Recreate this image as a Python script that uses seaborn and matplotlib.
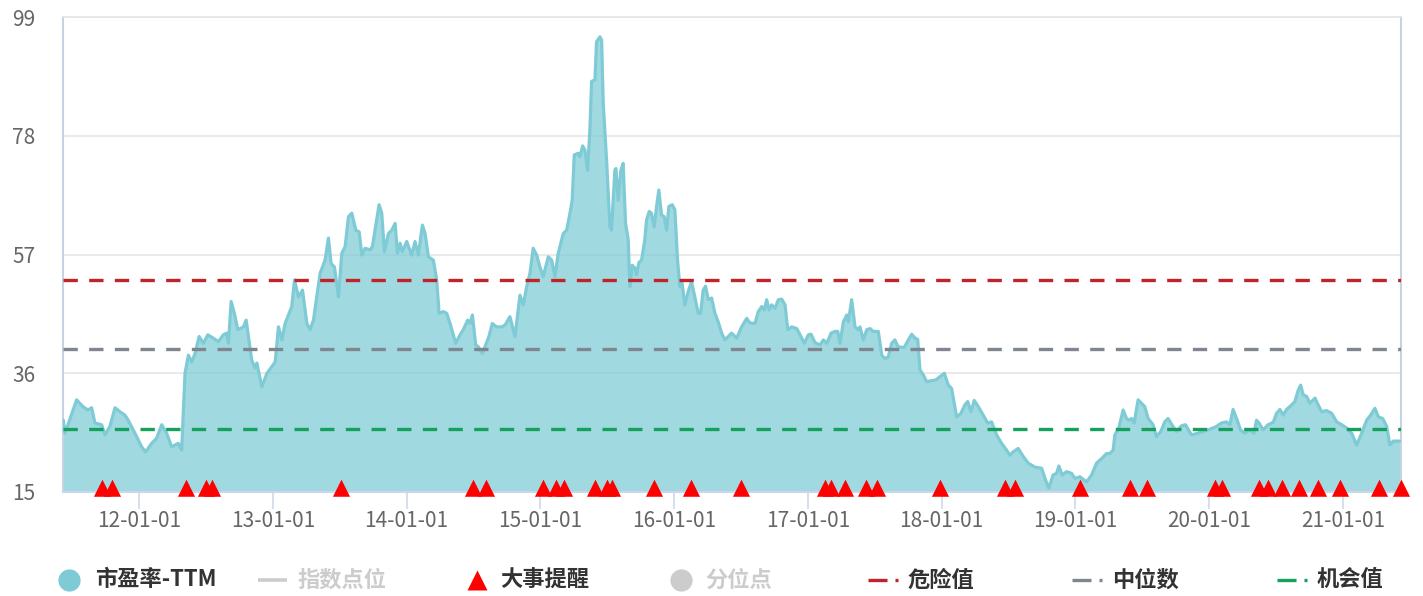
import pandas as pd
import numpy as np
import matplotlib
matplotlib.use('Agg')
import matplotlib.pyplot as plt
import matplotlib.dates as mdates
from matplotlib.lines import Line2D
from matplotlib.path import Path
import seaborn as sns

# ── Data ────────────────────────────────────────────────────────────────────
# dates as decimal years, PE-TTM values
pe_years = [
    2011.434, 2011.447, 2011.534, 2011.581, 2011.619, 2011.646, 2011.671, 2011.721, 2011.746, 2011.783,
    2011.821, 2011.858, 2011.895, 2011.920, 2011.970, 2012.020, 2012.050, 2012.095, 2012.132, 2012.170,
    2012.207, 2012.244, 2012.294, 2012.319, 2012.344, 2012.369, 2012.394, 2012.419, 2012.449, 2012.481,
    2012.514, 2012.555, 2012.593, 2012.630, 2012.656, 2012.668, 2012.688, 2012.712, 2012.738, 2012.780,
    2012.800, 2012.842, 2012.867, 2012.880, 2012.917, 2012.955, 2012.992, 2013.017, 2013.041, 2013.067,
    2013.091, 2013.141, 2013.161, 2013.191, 2013.221, 2013.254, 2013.278, 2013.303, 2013.328, 2013.353,
    2013.390, 2013.415, 2013.435, 2013.460, 2013.490, 2013.515, 2013.540, 2013.565, 2013.590, 2013.620,
    2013.645, 2013.665, 2013.689, 2013.727, 2013.744, 2013.794, 2013.814, 2013.834, 2013.864, 2013.889,
    2013.914, 2013.931, 2013.951, 2013.968, 2014.001, 2014.038, 2014.063, 2014.088, 2014.118, 2014.138,
    2014.163, 2014.200, 2014.225, 2014.243, 2014.275, 2014.300, 2014.325, 2014.367, 2014.400, 2014.424,
    2014.457, 2014.474, 2014.492, 2014.517, 2014.536, 2014.566, 2014.586, 2014.616, 2014.641, 2014.674,
    2014.711, 2014.736, 2014.773, 2014.811, 2014.848, 2014.873, 2014.898, 2014.923, 2014.947, 2014.973,
    2014.997, 2015.022, 2015.060, 2015.085, 2015.110, 2015.134, 2015.172, 2015.197, 2015.222, 2015.239,
    2015.254, 2015.284, 2015.297, 2015.317, 2015.334, 2015.354, 2015.371, 2015.384, 2015.409, 2015.421,
    2015.446, 2015.459, 2015.471, 2015.496, 2015.521, 2015.533, 2015.558, 2015.566, 2015.583, 2015.603,
    2015.620, 2015.638, 2015.658, 2015.670, 2015.688, 2015.708, 2015.720, 2015.738, 2015.758, 2015.782,
    2015.795, 2015.815, 2015.832, 2015.852, 2015.870, 2015.887, 2015.907, 2015.927, 2015.945, 2015.962,
    2015.987, 2016.007, 2016.027, 2016.044, 2016.061, 2016.081, 2016.106, 2016.131, 2016.156, 2016.181,
    2016.199, 2016.218, 2016.236, 2016.256, 2016.281, 2016.306, 2016.330, 2016.356, 2016.380, 2016.430,
    2016.468, 2016.505, 2016.543, 2016.567, 2016.605, 2016.629, 2016.655, 2016.674, 2016.692, 2016.709,
    2016.729, 2016.754, 2016.779, 2016.804, 2016.829, 2016.849, 2016.879, 2016.916, 2016.941, 2016.973,
    2017.003, 2017.023, 2017.053, 2017.091, 2017.115, 2017.141, 2017.173, 2017.203, 2017.223, 2017.240,
    2017.265, 2017.290, 2017.302, 2017.327, 2017.352, 2017.377, 2017.389, 2017.414, 2017.440, 2017.464,
    2017.489, 2017.526, 2017.552, 2017.576, 2017.601, 2017.626, 2017.651, 2017.671, 2017.689, 2017.721,
    2017.751, 2017.776, 2017.801, 2017.821, 2017.838, 2017.863, 2017.888, 2017.926, 2017.956, 2017.988,
    2018.020, 2018.050, 2018.075, 2018.112, 2018.144, 2018.174, 2018.195, 2018.219, 2018.244, 2018.274,
    2018.311, 2018.344, 2018.374, 2018.411, 2018.449, 2018.486, 2018.511, 2018.535, 2018.573, 2018.610,
    2018.648, 2018.698, 2018.748, 2018.778, 2018.802, 2018.834, 2018.860, 2018.877, 2018.902, 2018.935,
    2018.972, 2018.997, 2019.034, 2019.084, 2019.122, 2019.159, 2019.196, 2019.234, 2019.258, 2019.283,
    2019.296, 2019.325, 2019.358, 2019.383, 2019.403, 2019.420, 2019.440, 2019.470, 2019.495, 2019.520,
    2019.545, 2019.582, 2019.607, 2019.640, 2019.669, 2019.694, 2019.731, 2019.757, 2019.794, 2019.824,
    2019.869, 2019.918, 2019.968, 2020.018, 2020.056, 2020.093, 2020.131, 2020.156, 2020.180, 2020.206,
    2020.235, 2020.267, 2020.305, 2020.335, 2020.355, 2020.374, 2020.404, 2020.441, 2020.479, 2020.504,
    2020.529, 2020.554, 2020.579, 2020.617, 2020.641, 2020.666, 2020.684, 2020.703, 2020.729, 2020.753,
    2020.791, 2020.815, 2020.841, 2020.878, 2020.916, 2020.953, 2020.990, 2021.028, 2021.065, 2021.102,
    2021.140, 2021.177, 2021.207, 2021.239, 2021.264, 2021.297, 2021.327, 2021.351, 2021.376, 2021.426,
]
pe_values = [
    27.7, 25.4, 31.3, 30.1, 29.5, 29.9, 27.2, 26.9, 25.1, 26.6,
    29.9, 29.2, 28.6, 27.7, 25.4, 23.0, 22.1, 23.6, 24.5, 26.9,
    25.4, 23.0, 23.6, 22.4, 36.0, 39.2, 38.0, 39.5, 42.5, 41.3,
    42.8, 42.2, 41.6, 42.8, 43.1, 41.3, 48.7, 46.6, 43.7, 44.2,
    45.4, 38.3, 36.9, 37.8, 33.6, 36.0, 37.2, 38.0, 44.2, 41.9,
    44.8, 47.8, 52.5, 49.5, 50.7, 44.8, 43.7, 45.4, 49.5, 53.7,
    56.0, 59.9, 55.4, 54.8, 49.5, 57.2, 58.4, 63.7, 64.3, 61.3,
    61.0, 56.9, 58.1, 57.8, 58.4, 65.8, 64.3, 57.5, 60.7, 61.3,
    62.5, 57.2, 59.0, 57.5, 59.3, 56.9, 59.3, 56.9, 62.2, 60.7,
    56.6, 56.0, 52.5, 46.6, 46.9, 46.6, 44.8, 41.3, 42.8, 43.7,
    45.4, 44.8, 46.3, 41.0, 40.7, 39.5, 40.7, 42.5, 44.8, 44.2,
    44.2, 44.5, 46.0, 42.5, 49.8, 48.1, 51.3, 53.7, 58.1, 56.9,
    54.8, 53.1, 56.6, 56.0, 53.1, 57.2, 60.7, 61.3, 64.3, 66.6,
    74.6, 74.9, 74.3, 76.2, 75.5, 71.9, 79.0, 87.6, 87.9, 94.6,
    95.5, 94.9, 83.7, 73.7, 61.9, 61.3, 71.9, 72.2, 66.6, 71.9,
    73.1, 62.5, 59.6, 51.3, 55.1, 54.6, 53.4, 55.6, 56.0, 59.6,
    63.1, 64.6, 64.3, 61.9, 65.5, 68.4, 64.0, 63.7, 61.3, 65.5,
    65.8, 64.9, 56.0, 51.3, 51.9, 48.1, 50.4, 52.2, 49.5, 46.6,
    46.6, 50.7, 51.4, 49.0, 49.3, 46.6, 45.1, 43.1, 41.9, 43.1,
    42.2, 44.2, 45.7, 44.9, 44.8, 46.9, 47.8, 47.2, 49.0, 47.2,
    48.1, 47.5, 49.0, 49.1, 48.1, 43.7, 44.2, 43.9, 42.8, 41.3,
    42.8, 42.9, 41.4, 41.0, 41.9, 41.3, 43.1, 43.4, 43.4, 41.3,
    45.1, 46.3, 45.1, 49.0, 44.2, 43.7, 44.2, 41.9, 43.7, 43.9,
    43.4, 43.4, 39.2, 38.6, 38.9, 41.3, 41.9, 40.8, 40.6, 40.6,
    41.9, 42.9, 42.2, 42.0, 36.6, 35.7, 34.5, 34.7, 34.8, 35.4,
    36.0, 33.9, 33.3, 28.3, 28.9, 30.4, 31.0, 29.2, 31.2, 30.1,
    28.6, 27.2, 27.4, 25.1, 23.6, 22.4, 21.5, 22.1, 22.7, 21.3,
    20.1, 19.4, 19.2, 17.1, 15.7, 18.0, 18.3, 19.6, 18.0, 18.6,
    18.3, 17.4, 17.7, 16.8, 18.0, 20.1, 20.9, 21.8, 21.8, 22.4,
    25.1, 26.3, 29.5, 28.0, 27.7, 28.0, 27.2, 31.3, 30.7, 30.1,
    28.0, 26.9, 24.8, 25.7, 27.4, 28.0, 26.6, 25.7, 26.7, 26.9,
    25.1, 25.4, 25.8, 26.2, 26.6, 27.2, 27.4, 26.9, 29.6, 28.0,
    26.0, 25.4, 26.0, 25.4, 27.7, 27.2, 26.0, 26.9, 27.3, 28.9,
    29.6, 28.6, 29.6, 30.4, 31.0, 33.0, 33.9, 32.2, 31.9, 30.7,
    31.6, 30.4, 29.2, 29.4, 28.9, 27.4, 26.9, 26.3, 25.4, 23.3,
    25.4, 27.7, 28.6, 29.8, 28.3, 28.0, 26.6, 23.3, 24.0, 24.0,
]
# 大事提醒 event dates
event_years = [
    2011.721, 2011.796, 2012.349, 2012.501, 2012.543, 2013.508, 2014.494, 2014.594,
    2015.022, 2015.121, 2015.178, 2015.409, 2015.496, 2015.536, 2015.851, 2016.124,
    2016.498, 2017.128, 2017.176, 2017.277, 2017.434, 2017.518, 2017.988, 2018.473,
    2018.548, 2019.034, 2019.408, 2019.533, 2020.043, 2020.101, 2020.374, 2020.441,
    2020.542, 2020.673, 2020.815, 2020.978, 2021.271, 2021.431,
]
danger_value = 52.5
median_value = 40.3
chance_value = 26.1
y_ticks = [15, 36, 57, 78, 99]
x_ticks = ["2012-01-01", "2013-01-01", "2014-01-01", "2015-01-01", "2016-01-01",
           "2017-01-01", "2018-01-01", "2019-01-01", "2020-01-01", "2021-01-01"]
x_start, x_end = 2011.432, 2021.434


def to_date(t):
    y = int(t)
    a, b = pd.Timestamp(y, 1, 1), pd.Timestamp(y + 1, 1, 1)
    return a + (b - a) * (t - y)


df = pd.DataFrame({"date": [to_date(t) for t in pe_years], "pe": pe_values})
events = [to_date(t) for t in event_years]

# ── Style ───────────────────────────────────────────────────────────────────
sns.set_theme(style="white")
plt.rcParams['font.family'] = ['Noto Sans CJK SC', 'DejaVu Sans']

TEAL = "#7ecbd6"
RED = "#c0232a"
GREY = "#7f868f"
GREEN = "#16a05d"
W, H = 1423, 596

fig = plt.figure(figsize=(W / 100, H / 100), dpi=100)
ax = fig.add_axes([63 / W, 104 / H, 1338 / W, 475 / H])

# area + line
ax.fill_between(df["date"], df["pe"], 15, color=TEAL, alpha=0.73, lw=0, zorder=2)
sns.lineplot(data=df, x="date", y="pe", ax=ax, color=TEAL, lw=2.3, zorder=3)

# threshold lines
for val, col in [(danger_value, RED), (median_value, GREY), (chance_value, GREEN)]:
    ax.axhline(val, color=col, lw=2.4, dashes=(4.3, 3.4), zorder=4)

# event triangles, base sitting on the x axis
tri = Path([(-1, -0.5), (1, -0.5), (0, 1.5), (-1, -0.5)],
           [Path.MOVETO, Path.LINETO, Path.LINETO, Path.CLOSEPOLY])
ax.plot(events, [15] * len(events), ls="none", marker=tri, ms=18.5,
        color="#ff0000", mec="none", clip_on=False, zorder=6)

# axes cosmetics
ax.set_xlim(to_date(x_start), to_date(x_end))
ax.set_ylim(15, 99)
ax.set_yticks(y_ticks)
ax.set_xticks([pd.Timestamp(d) for d in x_ticks])
ax.xaxis.set_major_formatter(mdates.DateFormatter("%y-%m-%d"))
ax.set_xlabel("")
ax.set_ylabel("")
ax.yaxis.grid(True, color="#e6e6e6", lw=1.2)
ax.set_axisbelow(True)
ax.tick_params(axis="y", length=0, pad=20, labelsize=15, labelcolor="#666666")
ax.tick_params(axis="x", length=12, width=1.1, color="#ccd6eb", pad=1,
               labelsize=15, labelcolor="#666666", direction="out")
ax.tick_params(axis="x", bottom=True)
for side in ["left", "right"]:
    ax.spines[side].set_color("#c5d3e2")
    ax.spines[side].set_linewidth(1.5)
ax.spines["top"].set_color("#e6e6e6")
ax.spines["top"].set_linewidth(1.2)
ax.spines["bottom"].set_color("#ccd6eb")
ax.spines["bottom"].set_linewidth(1.5)

# ── Legend (drawn by hand in figure coords) ─────────────────────────────────
fy = 1 - 580 / H


def fx(px):
    return px / W


def seg(x0, x1, color, lw=2.4):
    fig.add_artist(Line2D([fx(x0), fx(x1)], [fy, fy], color=color, lw=lw,
                          solid_capstyle="butt", transform=fig.transFigure))


def label(x, text, color="#333333"):
    fig.text(fx(x), fy, text, ha="left", va="center", fontsize=16,
             fontweight="bold", color=color)


fig.add_artist(Line2D([fx(69)], [fy], marker="o", ms=16, color=TEAL, mec="none",
                      transform=fig.transFigure))
label(95, "市盈率-TTM")
seg(258, 287, "#cccccc", lw=2.6)
label(297, "指数点位", "#cccccc")
fig.add_artist(Line2D([fx(476.5)], [fy], marker="^", ms=13.7, color="#ff0000", mec="none",
                      transform=fig.transFigure))
label(500, "大事提醒")
fig.add_artist(Line2D([fx(681)], [fy], marker="o", ms=16, color="#cccccc", mec="none",
                      transform=fig.transFigure))
label(705, "分位点", "#cccccc")
for x0, col, txt in [(868, RED, "危险值"), (1072, GREY, "中位数"), (1277, GREEN, "机会值")]:
    seg(x0, x0 + 19, col)
    seg(x0 + 27, x0 + 30, col)
    label(x0 + 40, txt)

fig.savefig("out.png", dpi=100)
plt.close(fig)
